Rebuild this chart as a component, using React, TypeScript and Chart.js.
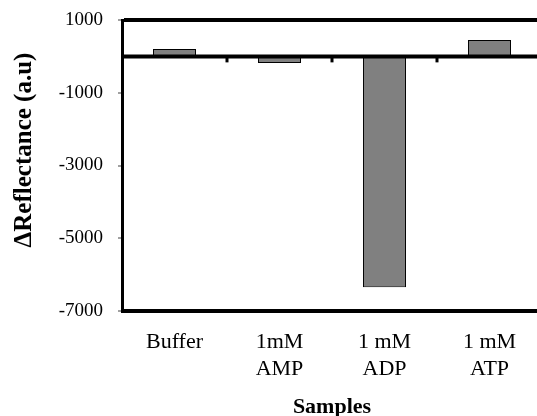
import React, { useEffect, useRef } from 'react';
import { Chart, registerables } from 'chart.js';

Chart.register(...registerables);

const categories: (string | string[])[] = ['Buffer', ['1mM', 'AMP'], ['1 mM', 'ADP'], ['1 mM', 'ATP']];
const values = [200, -185, -6350, 450];
const Y_MIN = -7000;
const Y_MAX = 1000;
const Y_STEP = 2000;
const X_TITLE = 'Samples';
const Y_TITLE = 'ΔReflectance (a.u)';
const FONT = '"Liberation Serif", "Times New Roman", serif';

const zeroLinePlugin = {
  id: 'zeroLine',
  afterDatasetsDraw(chart: any) {
    const { ctx, chartArea, scales } = chart;
    const y0 = scales.y.getPixelForValue(0);
    ctx.save();
    ctx.strokeStyle = '#000';
    ctx.lineWidth = 4;
    ctx.beginPath();
    ctx.moveTo(chartArea.left, y0);
    ctx.lineTo(chartArea.right, y0);
    ctx.stroke();
    ctx.lineWidth = 3;
    for (let i = 0; i < categories.length - 1; i++) {
      const x = (scales.x.getPixelForValue(i) + scales.x.getPixelForValue(i + 1)) / 2;
      ctx.beginPath();
      ctx.moveTo(x, y0);
      ctx.lineTo(x, y0 + 6);
      ctx.stroke();
    }
    ctx.restore();
  },
};

const yTitlePlugin = {
  id: 'yTitle',
  afterDraw(chart: any) {
    const { ctx } = chart;
    ctx.save();
    ctx.translate(25, 150);
    ctx.rotate(-Math.PI / 2);
    ctx.font = `bold 25px ${FONT}`;
    ctx.fillStyle = '#000';
    ctx.textAlign = 'center';
    ctx.textBaseline = 'middle';
    ctx.fillText(Y_TITLE, 0, 0);
    ctx.restore();
  },
};

export default function App() {
  const ref = useRef<HTMLCanvasElement>(null);

  useEffect(() => {
    if (!ref.current) return;
    const chart = new Chart(ref.current, {
      type: 'bar',
      data: {
        labels: categories as any,
        datasets: [
          {
            data: values,
            backgroundColor: '#808080',
            borderColor: '#000',
            borderWidth: 1,
            barPercentage: 0.41,
            categoryPercentage: 1,
          },
        ],
      },
      options: {
        responsive: false,
        animation: false,
        layout: { padding: { top: 20, right: 18, left: 0, bottom: 0 } },
        plugins: { legend: { display: false }, tooltip: { enabled: false } },
        scales: {
          x: {
            grid: { display: false },
            border: { display: false },
            ticks: {
              color: '#000',
              font: { family: FONT, size: 22, lineHeight: 1.25 },
              padding: 9,
              maxRotation: 0,
              autoSkip: false,
            },
            title: {
              display: true,
              text: X_TITLE,
              color: '#000',
              font: { family: FONT, size: 22, weight: 'bold' },
              padding: { top: 0, bottom: -5 },
            },
            afterFit: (s: any) => {
              s.height = 105;
              s.paddingLeft = 0;
              s.paddingRight = 0;
            },
          },
          y: {
            min: Y_MIN,
            max: Y_MAX,
            ticks: {
              stepSize: Y_STEP,
              color: '#000',
              font: { family: FONT, size: 19 },
              padding: 15,
              callback: (v: any) => String(v),
            },
            grid: {
              color: (c: any) =>
                c.tick && (c.tick.value === Y_MAX || c.tick.value === Y_MIN) ? '#000' : 'rgba(0,0,0,0)',
              lineWidth: 4,
              tickColor: '#808080',
              tickWidth: 1.5,
              tickLength: 4,
              drawTicks: true,
            },
            border: { color: '#000', width: 3 },
            afterFit: (s: any) => {
              s.width = 122;
              s.paddingTop = 0;
              s.paddingBottom = 0;
            },
          },
        },
      } as any,
      plugins: [zeroLinePlugin, yTitlePlugin],
    });
    return () => chart.destroy();
  }, []);

  return (
    <div
      style={{
        position: 'fixed',
        left: 0,
        top: 0,
        width: 537,
        height: 416,
        overflow: 'hidden',
        background: '#fff',
      }}
    >
      <canvas ref={ref} width={560} height={416} style={{ display: 'block' }} />
    </div>
  );
}
